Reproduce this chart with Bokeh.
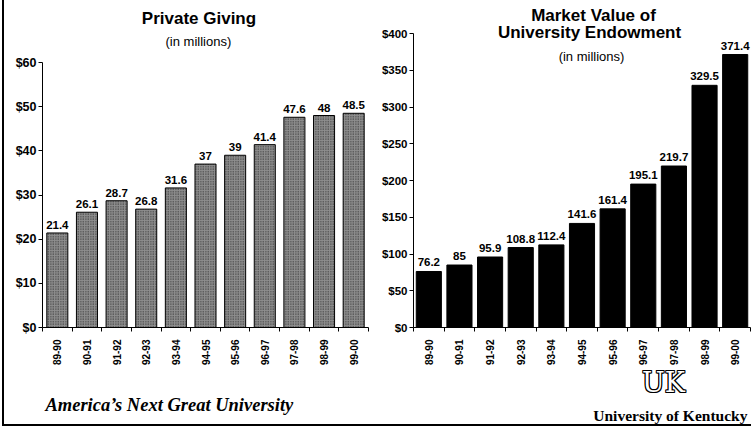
import math
from bokeh.plotting import figure
from bokeh.models import (Range1d, FixedTicker, ColumnDataSource, LabelSet, Label,
                          PrintfTickFormatter, LinearAxis)
from bokeh.layouts import row
from bokeh.core.properties import value
from bokeh.embed import file_html
from bokeh.resources import INLINE

# ---------------- data ----------------
years = ["89-90", "90-91", "91-92", "92-93", "93-94", "94-95",
         "95-96", "96-97", "97-98", "98-99", "99-00"]
giving = [21.4, 26.1, 28.7, 26.8, 31.6, 37, 39, 41.4, 47.6, 48, 48.5]
endowment = [76.2, 85, 95.9, 108.8, 112.4, 141.6, 161.4, 195.1, 219.7, 329.5, 371.4]
giving_ticks = [0, 10, 20, 30, 40, 50, 60]
endow_ticks = [0, 50, 100, 150, 200, 250, 300, 350, 400]

SANS = "Liberation Sans"
SERIF = "Liberation Serif"
FIG_H = 424


def chart(fig_left, fig_w, ax_left, ax_right, zero_y, top_y, ymax, ticks, ytick_size):
    """Figure whose frame fills the whole canvas; axes drawn at fixed locations."""
    n = len(years)
    ux = (ax_right - ax_left) / n          # px per category
    uy = (zero_y - top_y) / ymax          # px per value unit
    xr = Range1d(-(ax_left - fig_left) / ux, (fig_left + fig_w - ax_left) / ux)
    yr = Range1d(-(FIG_H - zero_y) / uy, zero_y / uy)
    p = figure(width=fig_w, height=FIG_H, output_backend="svg", toolbar_location=None,
               x_range=xr, y_range=yr, x_axis_location=None, y_axis_location=None,
               min_border=0)
    p.outline_line_color = None
    p.grid.visible = False
    p.background_fill_color = "white"
    p.border_fill_color = "white"

    centers = [i + 0.5 for i in range(n)]
    xa = LinearAxis(fixed_location=0, bounds=(0, n))
    xa.ticker = FixedTicker(ticks=centers, minor_ticks=list(range(n + 1)))
    xa.major_label_overrides = {c: y for c, y in zip(centers, years)}
    xa.major_tick_line_color = None
    xa.major_tick_out = 0
    xa.major_tick_in = 0
    xa.minor_tick_line_color = "black"
    xa.minor_tick_out = 4
    xa.minor_tick_in = 0
    xa.major_label_orientation = math.pi / 2
    xa.major_label_standoff = 8
    xa.major_label_text_font = SANS
    xa.major_label_text_font_style = "bold"
    xa.major_label_text_font_size = "10px"
    xa.major_label_text_color = "black"
    xa.axis_line_color = "black"
    p.add_layout(xa, "below")

    ya = LinearAxis(fixed_location=0, bounds=(0, ymax))
    ya.ticker = FixedTicker(ticks=ticks)
    ya.formatter = PrintfTickFormatter(format="$%d")
    ya.major_tick_out = 4
    ya.major_tick_in = 0
    ya.minor_tick_line_color = None
    ya.major_label_standoff = 2
    ya.major_label_text_font = SANS
    ya.major_label_text_font_style = "bold"
    ya.major_label_text_font_size = ytick_size
    ya.major_label_text_color = "black"
    ya.axis_line_color = "black"
    ya.major_tick_line_color = "black"
    p.add_layout(ya, "left")
    return p, centers


def bar_labels(p, centers, vals, offset):
    src = ColumnDataSource(dict(x=centers, y=vals, t=[f"{v:g}" for v in vals]))
    p.add_layout(LabelSet(x="x", y="y", text="t", source=src, text_align="center",
                          text_baseline="bottom", y_offset=offset,
                          text_font=value(SANS), text_font_style="bold",
                          text_font_size="11.5px", text_color="black"))


def label(p, x, y, text, size, style="bold", font=SANS, align="center", color="black",
          xo=0, yo=0):
    p.add_layout(Label(x=x, y=y, text=text, text_font=font, text_font_size=size,
                       text_font_style=style, text_align=align, text_baseline="middle",
                       text_color=color, x_offset=xo, y_offset=yo))


# ---------------- left: Private Giving ----------------
p1, c1 = chart(4, 372, 42, 368, 327, 62, 60, giving_ticks, "12.5px")
p1.vbar(x=c1, top=giving, width=0.71, bottom=0, fill_color="#8e8e8e",
        line_color="black", line_width=1,
        hatch_pattern="dot", hatch_color="#1a1a1a", hatch_scale=2.5, hatch_weight=1,
        hatch_alpha=0.9)
bar_labels(p1, c1, giving, 4)
label(p1, 5.28, 69.96, "Private Giving", "17px")
label(p1, 5.26, 64.75, "(in millions)", "13px", style="normal")
label(p1, 0.1, -17.66, "America\u2019s Next Great University", "18.5px",
      style="bold italic", font=SERIF, align="left")

# ---------------- right: Endowment ----------------
p2, c2 = chart(376, 375, 413, 750, 327, 33, 400, endow_ticks, "11.5px")
p2.vbar(x=c2, top=endowment, width=0.82, bottom=0, fill_color="black",
        line_color="black")
bar_labels(p2, c2, endowment, 5)
label(p2, 5.875, 424.5, "Market Value of", "17px")
label(p2, 5.745, 402, "University Endowment", "17px")
label(p2, 5.81, 368.7, "(in millions)", "13px", style="normal")
LOGO_FONT = "DejaVu Serif"
for dx in (-1, 0, 1):
    for dy in (-1, 0, 1):
        if dx or dy:
            label(p2, 8.16, -74.8, "UK", "27px", style="normal", font=LOGO_FONT,
                  xo=dx, yo=dy)
label(p2, 8.16, -74.8, "UK", "27px", style="normal", font=LOGO_FONT, color="white")
label(p2, 10.90, -119.7, "University of Kentucky", "15.5px", style="bold", font=SERIF,
      align="right")

layout = row(p1, p2, styles={"border-left": "2px solid black",
                             "border-bottom": "2px solid black",
                             "margin-left": "2px"})

open("out.html", "w").write(file_html(layout, INLINE))
